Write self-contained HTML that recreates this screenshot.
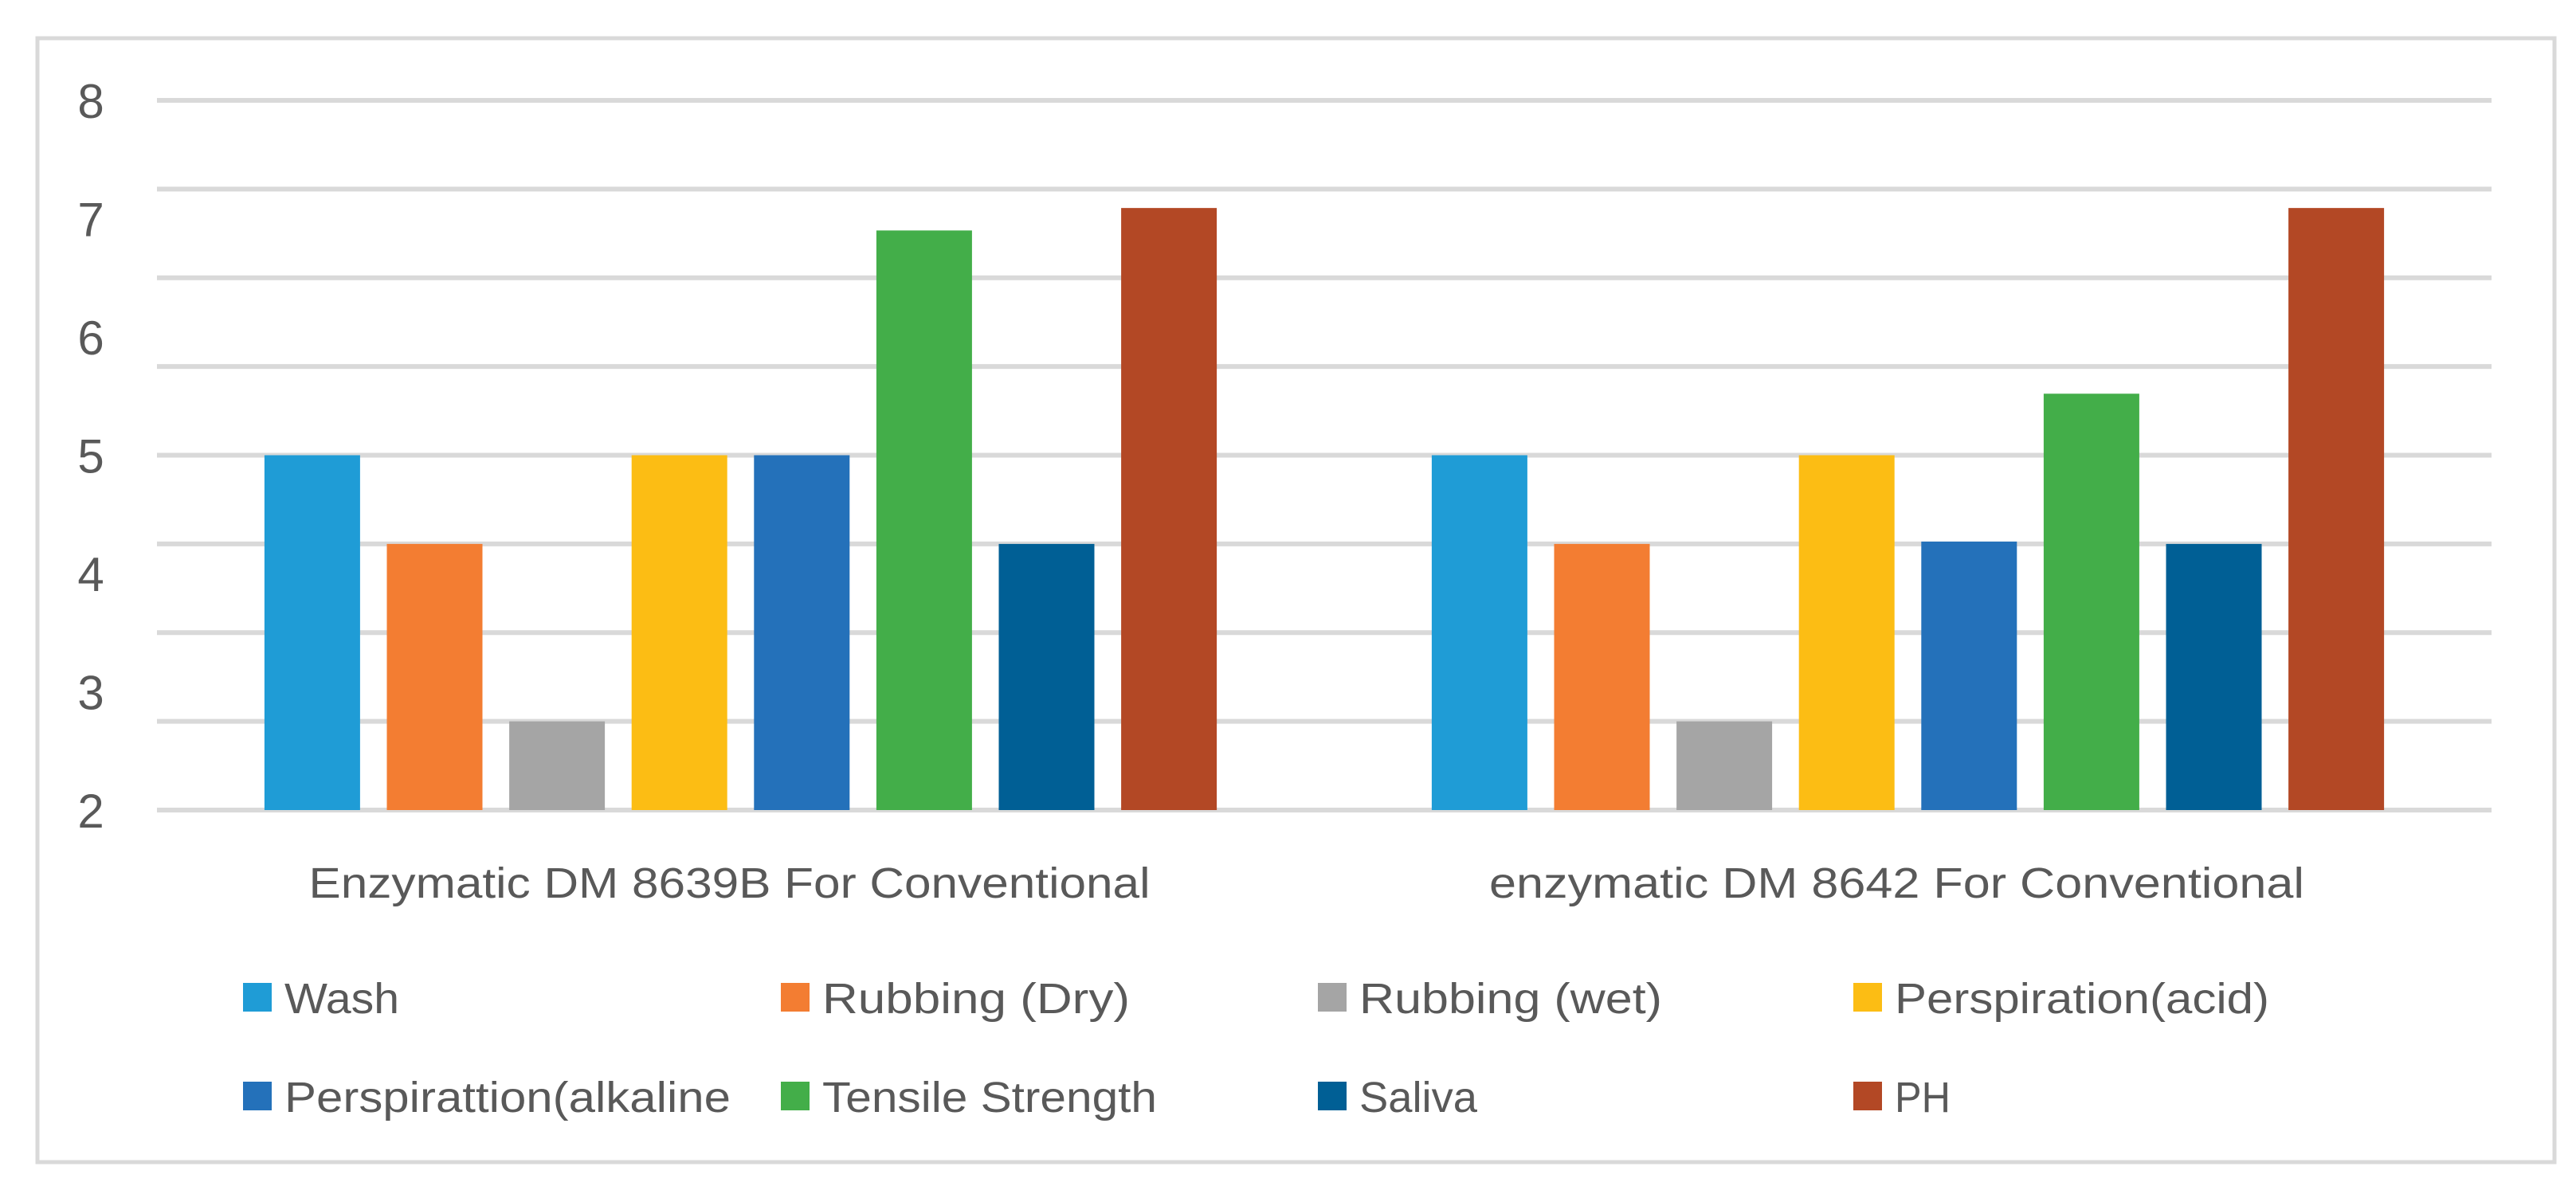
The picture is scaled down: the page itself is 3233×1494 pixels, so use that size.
<!DOCTYPE html>
<html><head><meta charset="utf-8"><style>
html,body{margin:0;padding:0;background:#fff;}
svg{display:block;}
text{font-family:"Liberation Sans",sans-serif;fill:#595959;}
</style></head><body>
<svg id="chart" width="3233" height="1494" viewBox="0 0 3233 1494" xmlns="http://www.w3.org/2000/svg">
<rect x="47" y="48" width="3159" height="1411" fill="#fff" stroke="#d9d9d9" stroke-width="5"/>
<g id="grid"></g><g id="yticks"></g><g id="bars"></g><g id="xlabels"></g><g id="legend"></g>
</svg>
<script>
const categories = ["Enzymatic DM 8639B For Conventional", "enzymatic DM 8642 For Conventional"];
const seriesNames = ["Wash","Rubbing (Dry)","Rubbing (wet)","Perspiration(acid)","Perspirattion(alkaline","Tensile Strength","Saliva","PH"];
const seriesColors = ["#1f9cd6","#f37d32","#a5a5a5","#fcbd14","#2471ba","#43ae49","#005f95","#b34825"];
const wash = [5, 5];
const rubbingDry = [4.25, 4.25];
const rubbingWet = [2.75, 2.75];
const perspAcid = [5, 5];
const perspAlk = [5, 4.27];
const tensile = [6.9, 5.52];
const saliva = [4.25, 4.25];
const ph = [7.09, 7.09];
const yTicks = [2,3,4,5,6,7,8];
const yMin = 2, yMax = 8;

const series = [wash, rubbingDry, rubbingWet, perspAcid, perspAlk, tensile, saliva, ph];
const NS = "http://www.w3.org/2000/svg";
const plotL = 197, plotR = 3127, plotT = 126, plotB = 1017;
const y = v => plotB - (v - yMin) / (yMax - yMin) * (plotB - plotT);
const catW = (plotR - plotL) / categories.length;
const step = 153.6, barW = 120;
const x = (c, s) => plotL + catW * c + catW / 2 + (s - (series.length - 1) / 2) * step - barW / 2;
function mk(tag, attrs, parent) { const e = document.createElementNS(NS, tag); for (const k in attrs) e.setAttribute(k, attrs[k]); parent.appendChild(e); return e; }

const grid = document.getElementById('grid');
for (let i = 0; i <= 8; i++) {
  const gy = plotT + i * (plotB - plotT) / 8;
  const l = mk('line', {x1: plotL, x2: plotR, y1: gy, y2: gy, stroke: '#d9d9d9', 'stroke-width': 6}, grid);
  
  
}
const yt = document.getElementById('yticks');
yTicks.forEach(v => {
  const t = mk('text', {x: 114, y: y(v) + 22, 'text-anchor': 'middle', 'font-size': 60}, yt);
  t.textContent = v;
  
  
});
const bars = document.getElementById('bars');
categories.forEach((c, ci) => {
  series.forEach((s, si) => {
    const r = mk('rect', {x: x(ci, si), y: y(s[ci]), width: barW, height: plotB - y(s[ci]), fill: seriesColors[si]}, bars);
    
    
  });
});
const xl = document.getElementById('xlabels');
const xlW = [1056, 1023];
categories.forEach((c, ci) => {
  const t = mk('text', {x: plotL + catW * ci + catW / 2 - 14, y: 1127, 'text-anchor': 'middle', 'font-size': 54, textLength: xlW[ci], lengthAdjust: 'spacingAndGlyphs'}, xl);
  t.textContent = c;
  
  
});
const lg = document.getElementById('legend');
const lgX = [305, 980, 1654, 2326];
const lgY = [1252, 1376];
const lgW = [144, 386, 380, 470, 560, 420, 148, 70];
seriesNames.forEach((n, i) => {
  const lx = lgX[i % 4], ly = lgY[Math.floor(i / 4)];
  const g = mk('g', {}, lg);
  
  
  const m = mk('rect', {x: lx, y: ly - 18, width: 36, height: 36, fill: seriesColors[i]}, g);
  
  
  const t = mk('text', {x: lx + 52, y: ly + 20, 'font-size': 54, textLength: lgW[i], lengthAdjust: 'spacingAndGlyphs'}, g);
  t.textContent = n;
  
  
});
</script>
</body></html>
